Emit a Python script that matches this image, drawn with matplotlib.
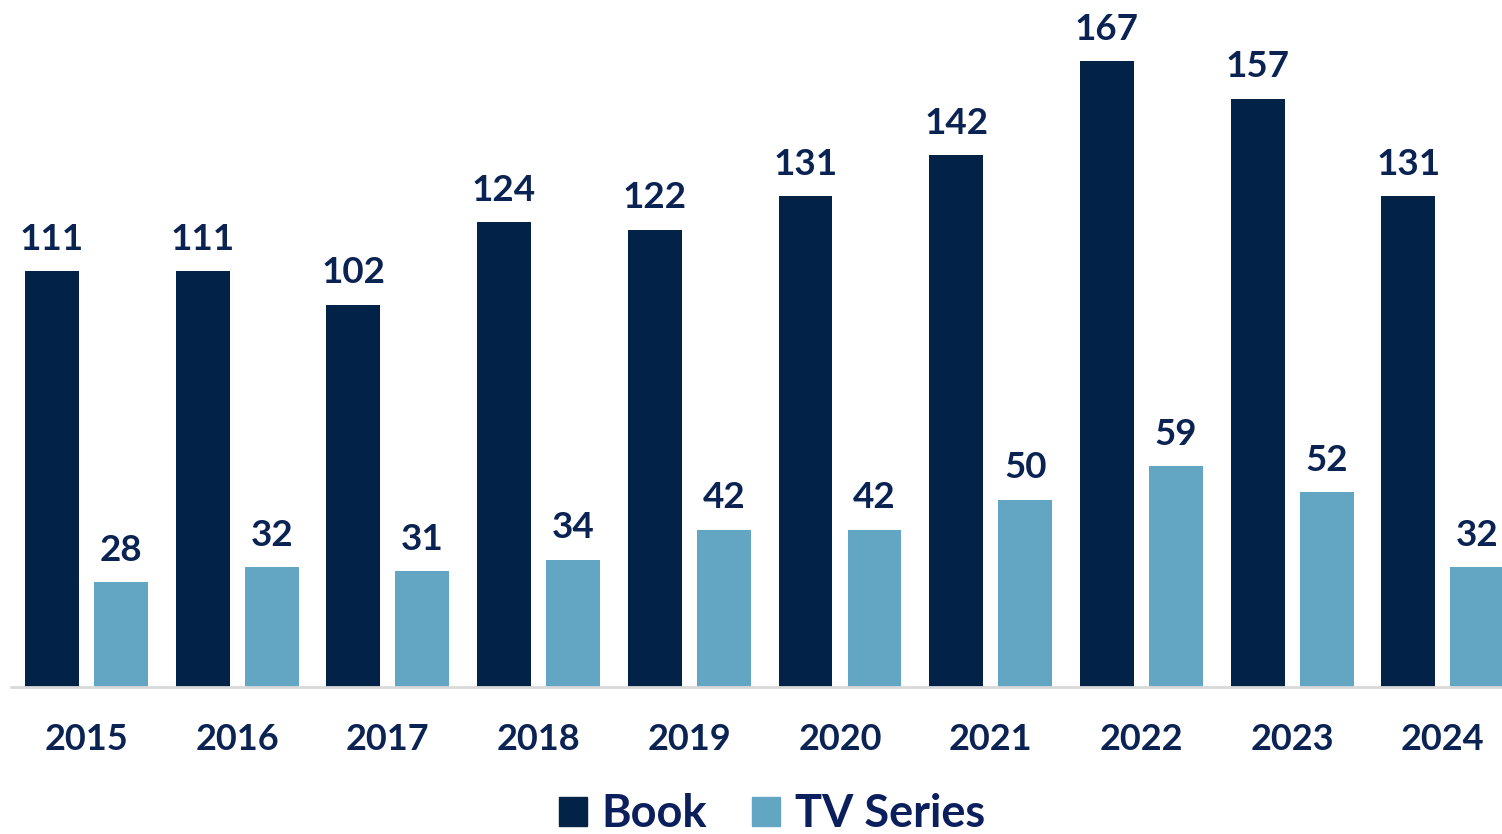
import numpy as np
import matplotlib.pyplot as plt
from matplotlib.patches import Patch

plt.rcParams['font.family'] = ['Lato', 'DejaVu Sans']

years = ['2015', '2016', '2017', '2018', '2019', '2020', '2021', '2022', '2023', '2024']
book = [111, 111, 102, 124, 122, 131, 142, 167, 157, 131]
tv = [28, 32, 31, 34, 42, 42, 50, 59, 52, 32]

c_book = '#022248'
c_tv = '#63A6C4'
c_text = '#0B2353'

fig = plt.figure(figsize=(15.02, 8.34), dpi=100)
ax = fig.add_axes([11 / 1502, 147 / 834, 1 - 11 / 1502, (687 - 12.4) / 834])

x = np.arange(len(years))
w = 0.358
off = 0.229
b1 = ax.bar(x - off, book, w, color=c_book)
b2 = ax.bar(x + off, tv, w, color=c_tv)

for bars in (b1, b2):
    for r in bars:
        h = r.get_height()
        ax.annotate(str(int(h)), (r.get_x() + r.get_width() / 2, h),
                    xytext=(0, 11), textcoords='offset points',
                    ha='center', va='bottom', fontsize=26.5, fontweight='bold', color=c_text)

ax.set_xlim(-0.501, 9.393)
ax.set_ylim(0, 180)
ax.set_xticks(x)
ax.set_xticklabels(years, fontsize=26, fontweight='bold', color=c_text)
ax.tick_params(axis='x', length=0, pad=26)
ax.set_yticks([])
for s in ['top', 'right', 'left']:
    ax.spines[s].set_visible(False)
ax.spines['bottom'].set_color('#D9D9D9')
ax.spines['bottom'].set_linewidth(2)

handles = [Patch(color=c_book, label='Book'), Patch(color=c_tv, label='TV Series')]
leg = fig.legend(handles=handles, loc='lower center', bbox_to_anchor=(0.514, -0.05), ncol=2,
                 frameon=False, fontsize=32.5, handlelength=0.62, handleheight=0.62,
                 handletextpad=0.33, columnspacing=1.0)
for t in leg.get_texts():
    t.set_fontweight('bold')
    t.set_color('#0A1F5C')

fig.savefig('out.png', dpi=100)
